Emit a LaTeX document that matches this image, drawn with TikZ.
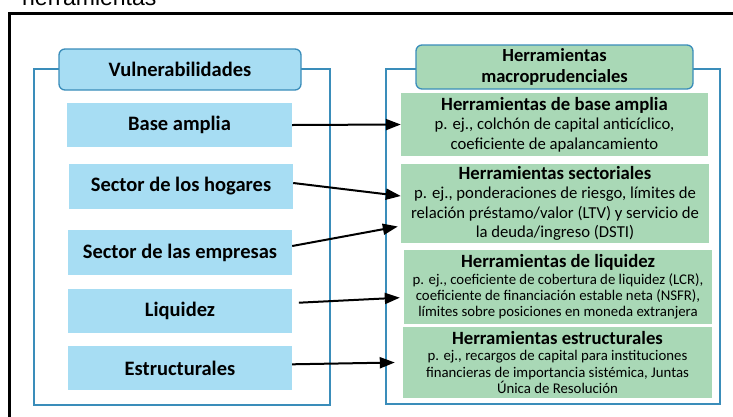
\documentclass[tikz,border=0pt]{standalone}
\usepackage{fontspec}
\setmainfont{Carlito}
\newfontfamily\arialf{Liberation Sans}
\usetikzlibrary{arrows.meta}
\definecolor{lblue}{HTML}{A7DDF3}
\definecolor{lgreen}{HTML}{A9D8B6}
\definecolor{fblue}{HTML}{3A8DBA}
\newcommand{\gtitle}[1]{{\fontsize{18.7}{20}\selectfont\bfseries #1}}
\begin{document}
\begin{tikzpicture}[x=1pt,y=-1pt,
  vbox/.style={fill=lblue, minimum width=224pt, minimum height=44pt, inner sep=0pt,
    font=\fontsize{20.5}{24}\selectfont\bfseries},
  gbox/.style={fill=lgreen, minimum width=308pt, inner sep=0pt, align=center},
  hdr/.style={rounded corners=6pt, draw=fblue, line width=1.3pt, inner sep=0pt, align=center},
  framebox/.style={draw=fblue, line width=1.3pt},
  conn/.style={line width=2pt, -{Triangle[length=15pt,width=11pt]}}
]
\useasboundingbox (0,0) rectangle (733,416);
\fill[white] (0,0) rectangle (733,416);

% cut-off caption at the top
\node[anchor=base west, inner sep=0pt, font=\arialf\fontsize{23}{23}\selectfont] (cap) at (22,5) {herramientas};

% black outer frame
\draw[line width=3pt] (9.5,440) -- (9.5,13) -- (750,13);

% blue frames
\draw[framebox] (34,69) rectangle (330,405);
\draw[framebox] (386,69) rectangle (720,404);

% headers
\node[hdr, fill=lblue, minimum width=242pt, minimum height=41pt,
  font=\fontsize{20.5}{24}\selectfont\bfseries] (vul) at (180,69.5) {Vulnerabilidades};
\node[hdr, fill=lgreen, minimum width=277pt, minimum height=44pt,
  font=\fontsize{18.5}{21}\selectfont\bfseries] (herr) at (554.5,67) {Herramientas\\macroprudenciales};

% left boxes
\node[vbox, minimum width=225pt] (base) at (179.5,125) {Base amplia};
\node[vbox, minimum height=45pt] (hog) at (181,186.5) {Sector de los hogares};
\node[vbox, minimum height=45pt] (emp) at (180,252.5) {Sector de las empresas};
\node[vbox] (liq) at (180,311) {Liquidez};
\node[vbox] (est) at (180,368) {Estructurales};

% right boxes
\node[gbox, minimum width=307pt, minimum height=63pt,
  font=\fontsize{16.7}{19.5}\selectfont] (gbase) at (554.5,124.5)
  {\gtitle{Herramientas de base amplia}\\p. ej., colchón de capital anticíclico,\\coeficiente de apalancamiento};
\node[gbox, minimum height=79pt,
  font=\fontsize{16.7}{19.5}\selectfont] (gsec) at (555,203.5)
  {\gtitle{Herramientas sectoriales}\\p. ej., ponderaciones de riesgo, límites de\\relación préstamo/valor (LTV) y servicio de\\la deuda/ingreso (DSTI)};
\node[gbox, minimum height=74pt,
  font=\fontsize{14.8}{16.3}\selectfont] (gliq) at (558,287)
  {\gtitle{Herramientas de liquidez}\\p. ej., coeficiente de cobertura de liquidez (LCR),\\coeficiente de financiación estable neta (NSFR),\\límites sobre posiciones en moneda extranjera};
\node[gbox, minimum width=309pt, minimum height=71pt,
  font=\fontsize{14.8}{16.3}\selectfont] (gest) at (557.5,362.5)
  {\gtitle{Herramientas estructurales}\\p. ej., recargos de capital para instituciones\\financieras de importancia sistémica, Juntas\\Única de Resolución};

% connectors
\draw[conn] (base.east) -- (gbase.west);
\draw[conn] ([yshift=3.5pt]hog.east) -- ([yshift=7.5pt]gsec.west);
\draw[conn] ([yshift=6.5pt]emp.east) -- ([xshift=-3pt,yshift=-23pt]gsec.west);
\draw[conn] ([xshift=6.7pt,yshift=8.3pt]liq.east) -- ([xshift=-4pt,yshift=-10.7pt]gliq.west);
\draw[conn] ([yshift=3.7pt]est.east) -- ([xshift=-8pt]gest.west);
\end{tikzpicture}
\end{document}
